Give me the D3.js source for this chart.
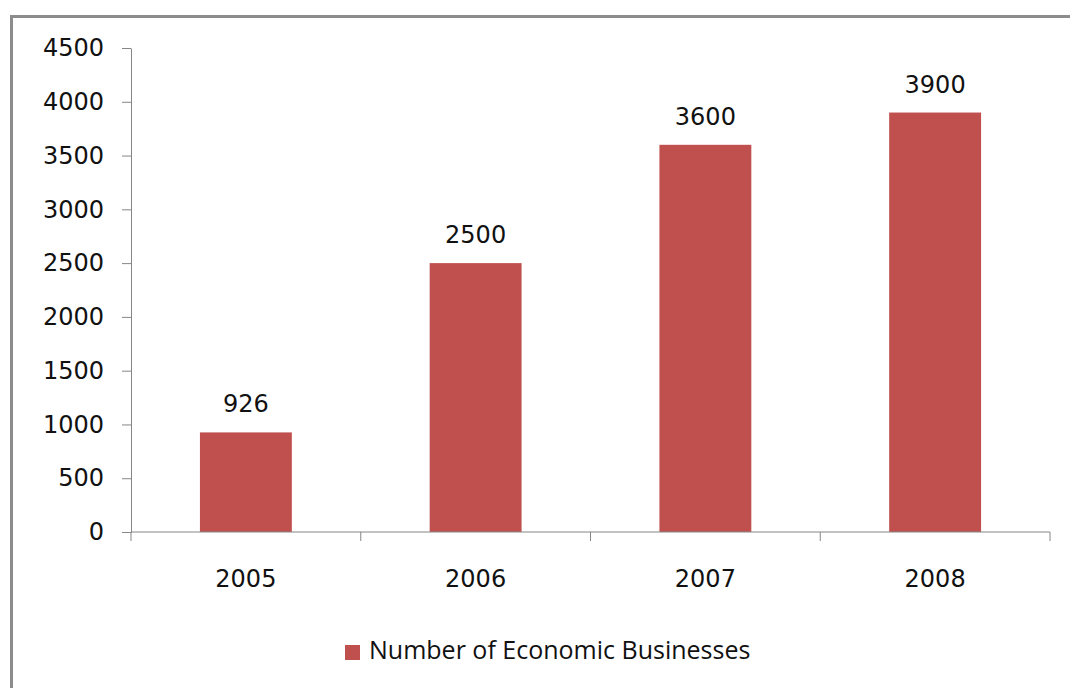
<!DOCTYPE html>
<html>
<head>
<meta charset="utf-8">
<script src="https://cdn.jsdelivr.net/npm/d3@7"></script>
<style>
  html, body { margin: 0; padding: 0; background: #fff; }
  svg { display: block; }
</style>
</head>
<body>
<svg id="chart" width="1070" height="688"></svg>
<script>
// Yearly counts of economic businesses
const years = ["2005", "2006", "2007", "2008"];
const businesses = [926, 2500, 3600, 3900];
const yTicks = [0, 500, 1000, 1500, 2000, 2500, 3000, 3500, 4000, 4500];
const seriesName = "Number of Economic Businesses";

const W = 1070, H = 688;
const margin = { left: 131, top: 48 };
const plotRight = 1050, plotBottom = 532;
const barColor = "#C0504D";
const axisColor = "#868686";
const tickFont = "DejaVu Sans";
const legendFont = "Open Sans";

const svg = d3.select("#chart");

// Chart area frame (runs off the right and bottom edges)
svg.append("rect")
  .attr("x", 11.5).attr("y", 16.5)
  .attr("width", W + 20).attr("height", H + 20)
  .attr("fill", "#fff")
  .attr("stroke", "#8c8c8c")
  .attr("stroke-width", 3);

const x = d3.scaleBand()
  .domain(years)
  .range([margin.left, plotRight])
  .paddingInner(0.6)
  .paddingOuter(0.3);

const y = d3.scaleLinear()
  .domain([0, 4500])
  .range([plotBottom, margin.top]);

const rows = years.map((yr, i) => ({ yr, v: businesses[i] }));

// Bars
svg.append("g").selectAll("rect")
  .data(rows)
  .join("rect")
  .attr("x", d => x(d.yr))
  .attr("y", d => y(d.v))
  .attr("width", x.bandwidth())
  .attr("height", d => plotBottom - y(d.v))
  .attr("fill", barColor);

// Value labels
svg.append("g").selectAll("text")
  .data(rows)
  .join("text")
  .attr("x", d => x(d.yr) + x.bandwidth() / 2)
  .attr("y", d => y(d.v) - 20)
  .attr("text-anchor", "middle")
  .attr("font-family", tickFont)
  .attr("font-size", 24)
  .attr("fill", "#111")
  .text(d => d.v);

// Y axis
const yAxis = svg.append("g")
  .attr("transform", `translate(${margin.left},0)`)
  .call(d3.axisLeft(y).tickValues(yTicks).tickSize(9).tickSizeOuter(0).tickPadding(18).tickFormat(d3.format("d")));
yAxis.select(".domain").attr("stroke", axisColor);
yAxis.selectAll(".tick line").attr("stroke", axisColor);
yAxis.selectAll("text")
  .attr("font-family", tickFont)
  .attr("font-size", 24)
  .attr("fill", "#111");

// X axis with category boundary ticks
const xAxisG = svg.append("g").attr("transform", `translate(0,${plotBottom})`);
xAxisG.append("line")
  .attr("x1", margin.left).attr("x2", plotRight)
  .attr("stroke", axisColor);
const bounds = d3.range(years.length + 1).map(i => margin.left + i * (plotRight - margin.left) / years.length);
xAxisG.selectAll("line.tk")
  .data(bounds)
  .join("line")
  .attr("class", "tk")
  .attr("x1", d => d).attr("x2", d => d)
  .attr("y1", 0).attr("y2", 9)
  .attr("stroke", axisColor);
xAxisG.selectAll("text")
  .data(years)
  .join("text")
  .attr("x", d => x(d) + x.bandwidth() / 2)
  .attr("y", 55)
  .attr("text-anchor", "middle")
  .attr("font-family", tickFont)
  .attr("font-size", 24)
  .attr("fill", "#111")
  .text(d => d);

// Legend
const legend = svg.append("g").attr("transform", "translate(345,645)");
legend.append("rect")
  .attr("width", 15).attr("height", 15)
  .attr("fill", barColor);
legend.append("text")
  .attr("x", 24).attr("y", 14)
  .attr("font-family", legendFont)
  .attr("font-size", 25)
  .attr("fill", "#111")
  .text(seriesName);
</script>
</body>
</html>
